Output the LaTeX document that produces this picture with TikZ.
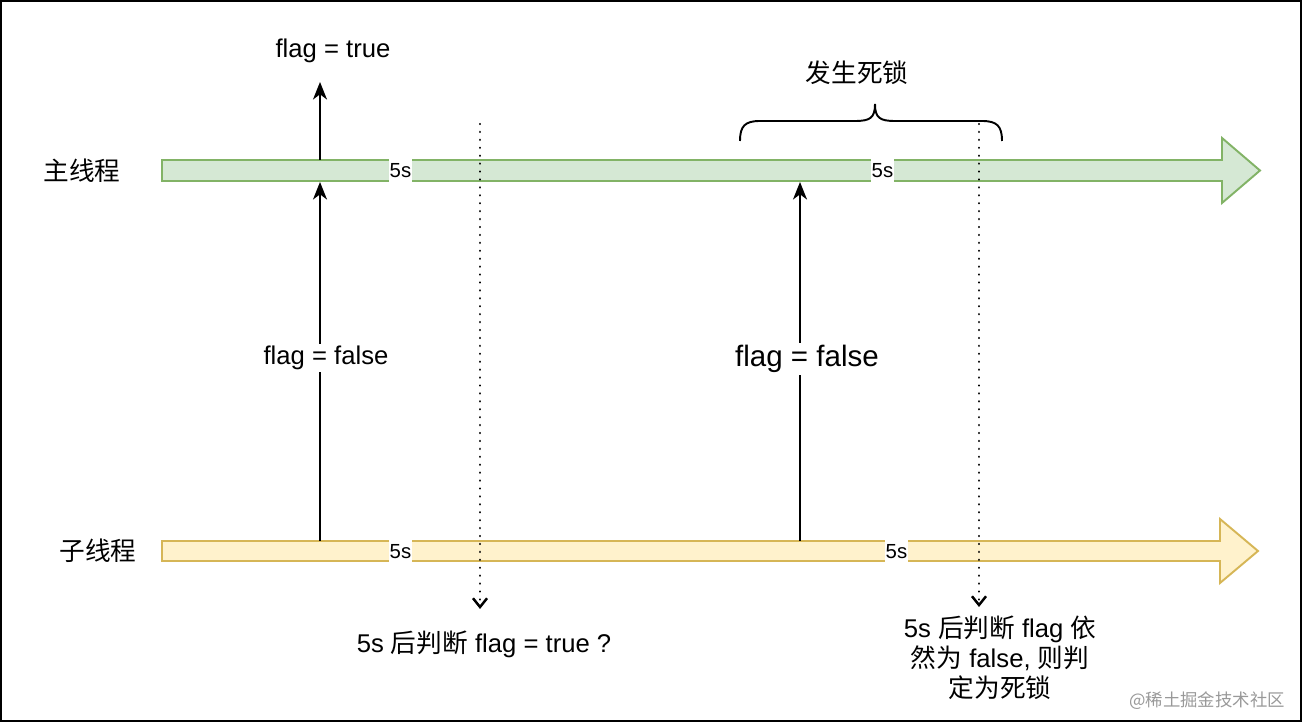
\documentclass[tikz,border=0pt]{standalone}
\usepackage{fontspec}
\setmainfont{Liberation Sans}
\newfontfamily\cjk{Noto Sans CJK SC}
\usetikzlibrary{arrows.meta}
\definecolor{mainF}{HTML}{D5E8D4}
\definecolor{mainS}{HTML}{82B366}
\definecolor{subF}{HTML}{FFF2CC}
\definecolor{subS}{HTML}{D6B656}
\begin{document}
\begin{tikzpicture}[x=0.02cm, y=-0.02cm, >={Stealth[length=10pt, width=8pt, inset=3pt]},
    font=\fontsize{14.6}{17}\selectfont,
    gap/.style={fill=white, inner sep=0pt, minimum width=0.46cm, minimum height=0.5cm, font=\fontsize{11.6}{12}\selectfont},
    probe/.style={line width=1.4pt, dash pattern=on 0.01pt off 4.5pt, line cap=round, -{Straight Barb[length=5pt, width=8pt]}}]
    % Cornice
    \useasboundingbox (0,0) rectangle (1302,722);
    \draw[line width=1.2pt] (1,1) rectangle (1301,721);

    % Thread principale
    \draw[line width=1.1pt, draw=mainS, fill=mainF] (162,160) -- (1222,160) -- (1222,138) -- (1260,170.5)
        -- (1222,203) -- (1222,181) -- (162,181) -- cycle;
    \node (mainlbl) at (82,171) {\cjk 主线程};
    \node[gap] (m5a) at (400.5,171) {5s};
    \node[gap] (m5b) at (882.5,171) {5s};

    % Thread figlio
    \draw[line width=1.1pt, draw=subS, fill=subF] (162,541) -- (1220,541) -- (1220,519) -- (1258,551)
        -- (1220,583) -- (1220,561) -- (162,561) -- cycle;
    \node (sublbl) at (98,551) {\cjk 子线程};
    \node[gap] (s5a) at (400.5,552) {5s};
    \node[gap] (s5b) at (896.5,552) {5s};

    % Punti di contatto
    \coordinate (s1) at (320,541);
    \coordinate (m1b) at (320,182);
    \coordinate (m1t) at (320,160);
    \coordinate (top1) at (320,82);
    \coordinate (s2) at (800,541);
    \coordinate (m2b) at (800,182);

    % Segnali flag
    \draw[->, line width=1.1pt] (s1) -- (m1b);
    \node[fill=white, inner sep=1pt] (ff1) at (326,358) {flag = false};
    \draw[->, line width=1.1pt] (m1t) -- (top1);
    \node (ft) at (333,51) {flag = true};
    \draw[->, line width=1.1pt] (s2) -- (m2b);
    \node[fill=white, inner sep=1pt, font=\fontsize{16.8}{19}\selectfont] (ff2) at (807,359) {flag = false};

    % Controlli dopo 5s
    \coordinate (d1a) at (480,124);
    \coordinate (d1b) at (480,609);
    \coordinate (d2a) at (979,124);
    \coordinate (d2b) at (979,607);
    \draw[probe] (d1a) -- (d1b);
    \draw[probe] (d2a) -- (d2b);
    \node (chk1) at (484,644) {5s {\cjk 后判断} flag = true ?};
    \node[align=center] (chk2) at (1000,658) {5s {\cjk 后判断} flag {\cjk 依}\\{\cjk 然为} false, {\cjk 则判}\\{\cjk 定为死锁}};

    % Graffa
    \draw[line width=1.1pt] (740,141) .. controls (740,126) and (745,121) .. (760,121) -- (855,121)
        .. controls (870,121) and (875,118) .. (875,104) .. controls (875,118) and (880,121) .. (895,121)
        -- (982,121) .. controls (997,121) and (1002,126) .. (1002,141);
    \node (dead) at (857,73) {\cjk 发生死锁};

    \node[anchor=east, text=black!40, font=\fontsize{9.9}{11}\selectfont] (wm) at (1291,701) {\cjk @稀土掘金技术社区};
\end{tikzpicture}
\end{document}
